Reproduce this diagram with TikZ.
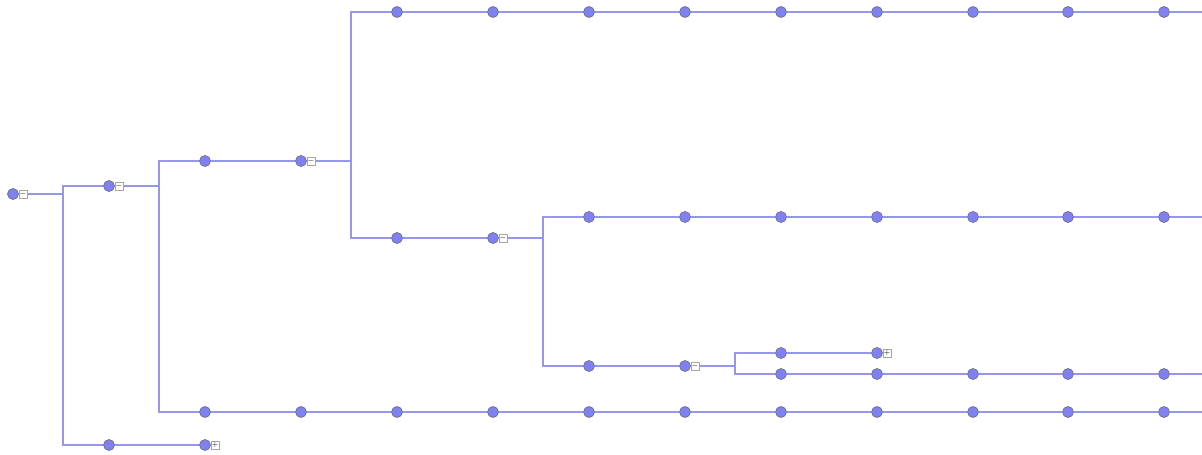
\documentclass[tikz,border=0pt]{standalone}
\usetikzlibrary{backgrounds}
\definecolor{linkcol}{RGB}{150,150,238}
\definecolor{dotcol}{RGB}{128,128,238}
\definecolor{rimcol}{RGB}{100,100,130}
\tikzset{
  dot/.style={circle, fill=dotcol, draw=rimcol, line width=0.4pt, minimum size=8.3pt, inner sep=0pt},
  tog/.style={rectangle, fill=white, draw=black!35, line width=0.3pt, minimum size=6.3pt, inner sep=0pt, font=\fontsize{5}{5}\selectfont},
  link/.style={draw=linkcol, line width=1.2pt}
}
\begin{document}
\begin{tikzpicture}[x=0.75pt,y=-0.75pt]
        \useasboundingbox (0,0) rectangle (1202,454);
        % left part
        \node[dot] (n0) at (13,194) {};
        \node[tog] (n0t) at (23,194) {$-$};
        \node[dot] (n1) at (109,186) {};
        \node[tog] (n1t) at (119,186) {$-$};
        \node[dot] (b1) at (109,445) {};
        \node[dot] (b2) at (205,445) {};
        \node[tog] (b2t) at (215,445) {$+$};
        \node[dot] (n2) at (205,161) {};
        \node[dot] (n3) at (301,161) {};
        \node[tog] (n3t) at (311,161) {$-$};
        % top row
        \node[dot] (t1) at (397,12) {};
        \node[dot] (t2) at (493,12) {};
        \node[dot] (t3) at (589,12) {};
        \node[dot] (t4) at (685,12) {};
        \node[dot] (t5) at (781,12) {};
        \node[dot] (t6) at (877,12) {};
        \node[dot] (t7) at (973,12) {};
        \node[dot] (t8) at (1068,12) {};
        \node[dot] (t9) at (1164,12) {};
        % middle branch
        \node[dot] (u1) at (397,238) {};
        \node[dot] (u2) at (493,238) {};
        \node[tog] (u2t) at (503,238) {$-$};
        \node[dot] (v1) at (589,217) {};
        \node[dot] (v2) at (685,217) {};
        \node[dot] (v3) at (781,217) {};
        \node[dot] (v4) at (877,217) {};
        \node[dot] (v5) at (973,217) {};
        \node[dot] (v6) at (1068,217) {};
        \node[dot] (v7) at (1164,217) {};
        \node[dot] (w1) at (589,366) {};
        \node[dot] (w2) at (685,366) {};
        \node[tog] (w2t) at (695,366) {$-$};
        \node[dot] (p1) at (781,353) {};
        \node[dot] (p2) at (877,353) {};
        \node[tog] (p2t) at (887,353) {$+$};
        \node[dot] (q1) at (781,374) {};
        \node[dot] (q2) at (877,374) {};
        \node[dot] (q3) at (973,374) {};
        \node[dot] (q4) at (1068,374) {};
        \node[dot] (q5) at (1164,374) {};
        % long row
        \node[dot] (m1) at (205,412) {};
        \node[dot] (m2) at (301,412) {};
        \node[dot] (m3) at (397,412) {};
        \node[dot] (m4) at (493,412) {};
        \node[dot] (m5) at (589,412) {};
        \node[dot] (m6) at (685,412) {};
        \node[dot] (m7) at (781,412) {};
        \node[dot] (m8) at (877,412) {};
        \node[dot] (m9) at (973,412) {};
        \node[dot] (m10) at (1068,412) {};
        \node[dot] (m11) at (1164,412) {};
        % joints and ends
        \coordinate (j0) at (63,194);
        \coordinate (j1) at (159,186);
        \coordinate (j2) at (351,161);
        \coordinate (j3) at (543,238);
        \coordinate (j4) at (735,366);
        \coordinate (tend) at (1202,12);
        \coordinate (vend) at (1202,217);
        \coordinate (qend) at (1202,374);
        \coordinate (mend) at (1202,412);
        \begin{scope}[on background layer]
        \draw[link] (n0) -- (j0) |- (n1);
        \draw[link] (j0) |- (b1) -- (b2);
        \draw[link] (n1) -- (j1) |- (n2) -- (n3);
        \draw[link] (j1) |- (m1) -- (m2) -- (m3) -- (m4) -- (m5) -- (m6) -- (m7) -- (m8) -- (m9) -- (m10) -- (m11) -- (mend);
        \draw[link] (n3) -- (j2) |- (t1) -- (t2) -- (t3) -- (t4) -- (t5) -- (t6) -- (t7) -- (t8) -- (t9) -- (tend);
        \draw[link] (j2) |- (u1) -- (u2) -- (j3);
        \draw[link] (j3) |- (v1) -- (v2) -- (v3) -- (v4) -- (v5) -- (v6) -- (v7) -- (vend);
        \draw[link] (j3) |- (w1) -- (w2) -- (j4);
        \draw[link] (j4) |- (p1) -- (p2);
        \draw[link] (j4) |- (q1) -- (q2) -- (q3) -- (q4) -- (q5) -- (qend);
        \end{scope}
\end{tikzpicture}
\end{document}
